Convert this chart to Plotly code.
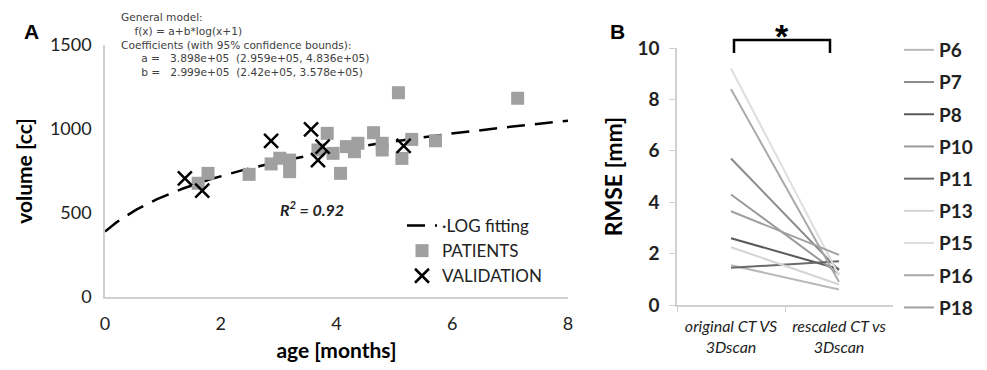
import plotly.graph_objects as go
import numpy as np

# ---------------- Panel A data ----------------
patients_age = [1.61, 1.78, 2.49, 2.87, 3.02, 3.19, 3.19, 3.68, 3.84, 3.94, 4.07, 4.17,
                4.37, 4.31, 4.64, 4.79, 4.79, 5.07, 5.13, 5.30, 5.71, 7.13]
patients_vol = [677, 736, 730, 792, 826, 815, 746, 875, 974, 855, 736, 895,
                915, 865, 978, 915, 875, 1216, 825, 938, 930, 1183]
valid_age = [1.38, 1.68, 2.87, 3.56, 3.76, 3.68, 5.16]
valid_vol = [706, 633, 930, 998, 895, 815, 899]
fit_a = 389.8   # cc  (3.898e+05 mm^3)
fit_b = 299.9   # cc  (2.999e+05 mm^3)
fit_age = np.linspace(0, 8, 161)

# ---------------- Panel B data ----------------
categories = ["original CT VS<br>3Dscan", "rescaled CT vs<br>3Dscan"]
patient_ids = ["P6", "P7", "P8", "P10", "P11", "P13", "P15", "P16", "P18"]
rmse_original = [1.55, 5.7, 2.6, 4.3, 1.45, 2.25, 9.2, 8.4, 3.65]
rmse_rescaled = [0.6, 1.35, 1.4, 1.2, 1.7, 0.8, 1.15, 0.9, 1.95]
patient_colors = ["#b8b8b8", "#8a8a8a", "#585858", "#9a9a9a", "#6a6a6a",
                  "#d4d4d4", "#dedede", "#a8a8a8", "#a0a0a0"]

OFF = 8                     # page body margin
W, H = 987 - OFF, 370 - OFF
def px(x):
    return (x - OFF) / W
def py(y):
    return 1 - (y - OFF) / H

FONT = "Lato"
fig = go.Figure()

fit_vol = fit_a + fit_b * np.log(fit_age + 1)
fig.add_trace(go.Scatter(x=fit_age, y=fit_vol, mode="lines", name="\u00b7LOG fitting",
                         line=dict(color="black", width=2.5, dash="18px,10px"),
                         xaxis="x", yaxis="y", legend="legend"))
fig.add_trace(go.Scatter(x=patients_age, y=patients_vol, mode="markers", name="PATIENTS",
                         marker=dict(symbol="square", size=13, color="#a0a0a0"),
                         xaxis="x", yaxis="y", legend="legend"))
fig.add_trace(go.Scatter(x=valid_age, y=valid_vol, mode="markers", name="VALIDATION",
                         marker=dict(symbol="x-thin", size=14, color="black",
                                     line=dict(color="black", width=2.5)),
                         xaxis="x", yaxis="y", legend="legend"))

for pid, o, r, c in zip(patient_ids, rmse_original, rmse_rescaled, patient_colors):
    fig.add_trace(go.Scatter(x=categories, y=[o, r], mode="lines", name=pid,
                             line=dict(color=c, width=2),
                             xaxis="x2", yaxis="y2", legend="legend2",
                             legendgroup=pid))

axis_line = "#d0d0d0"
fig.update_layout(
    width=W, height=H,
    margin=dict(l=0, r=0, t=0, b=0, autoexpand=False),
    paper_bgcolor="white", plot_bgcolor="white",
    font=dict(family=FONT, color="black"),
    xaxis=dict(domain=[px(105), px(568)], range=[0, 8], tickvals=[0, 2, 4, 6, 8],
               showgrid=False, zeroline=False, showline=True, linecolor=axis_line, linewidth=1.5,
               ticks="", ticklabelstandoff=10,
               tickfont=dict(size=18, family=FONT, color="#222"),
               title=dict(text="<b>age [months]</b>", font=dict(size=21, family=FONT), standoff=10),
               anchor="y"),
    yaxis=dict(domain=[py(297), py(45)], range=[0, 1500], tickvals=[0, 500, 1000, 1500],
               showgrid=False, zeroline=False, showline=True, linecolor=axis_line, linewidth=1.5,
               ticks="", ticklabelstandoff=8,
               tickfont=dict(size=18, family=FONT, color="#222"),
               title=dict(text="<b>volume [cc]</b>", font=dict(size=21, family=FONT), standoff=12),
               anchor="x"),
    xaxis2=dict(domain=[px(677), px(893)], range=[-0.5, 1.5], type="category",
                showgrid=False, zeroline=False, showline=True, linecolor=axis_line, linewidth=1.5,
                ticks="outside", tickson="boundaries", ticklen=5, tickcolor=axis_line,
                ticklabelstandoff=6,
                tickfont=dict(size=16, family=FONT, color="#222", style="italic"),
                anchor="y2"),
    yaxis2=dict(domain=[py(305), py(48)], range=[0, 10], tickvals=[0, 2, 4, 6, 8, 10],
                showgrid=False, zeroline=False, showline=True, linecolor=axis_line, linewidth=1.5,
                ticks="outside", ticklen=6, tickcolor=axis_line, ticklabelstandoff=6,
                tickfont=dict(size=19, family=FONT, color="#222", weight="bold"),
                title=dict(text="<b>RMSE [mm]</b>", font=dict(size=23, family=FONT), standoff=8),
                anchor="x2"),
    legend=dict(x=px(402), y=py(208), xanchor="left", yanchor="top",
                font=dict(size=17, family=FONT, color="#222"), bgcolor="rgba(0,0,0,0)",
                tracegroupgap=0, itemwidth=30),
    legend2=dict(x=px(899), y=py(31), xanchor="left", yanchor="top",
                 font=dict(size=19, family=FONT, color="#222", weight="bold"),
                 bgcolor="rgba(0,0,0,0)", tracegroupgap=4.5, itemwidth=30),
    showlegend=True,
)

# Fit model text
nb = "\u00a0"
model_text = ("General model:<br>"
              + nb * 4 + "f(x) = a+b*log(x+1)<br>"
              "Coefficients (with 95% confidence bounds):<br>"
              + nb * 6 + "a =" + nb * 3 + "3.898e+05" + nb * 2 + "(2.959e+05, 4.836e+05)<br>"
              + nb * 6 + "b =" + nb * 3 + "2.999e+05" + nb * 2 + "(2.42e+05, 3.578e+05)")
fig.add_annotation(x=px(119), y=py(9), xref="paper", yref="paper", xanchor="left", yanchor="top",
                   text=model_text, align="left", showarrow=False,
                   font=dict(size=10.6, family="DejaVu Sans", color="#404040"))
fig.add_annotation(x=px(312), y=py(208), xref="paper", yref="paper",
                   xanchor="center", yanchor="middle",
                   text="<b><i>R<sup>2</sup> = 0.92</i></b>", showarrow=False,
                   font=dict(size=16, family=FONT, color="#222"))
fig.add_annotation(x=px(31), y=py(31), xref="paper", yref="paper",
                   xanchor="center", yanchor="middle",
                   text="<b>A</b>", showarrow=False,
                   font=dict(size=21, family="Arial", color="black"))
fig.add_annotation(x=px(617), y=py(31), xref="paper", yref="paper",
                   xanchor="center", yanchor="middle",
                   text="<b>B</b>", showarrow=False,
                   font=dict(size=21, family="Arial", color="black"))
# significance bracket
fig.add_shape(type="path", xref="paper", yref="paper",
              path=f"M {px(734)} {py(53)} L {px(734)} {py(40)} L {px(830)} {py(40)} L {px(830)} {py(53)}",
              line=dict(color="black", width=2.5))
fig.add_annotation(x=px(782), y=py(36), xref="paper", yref="paper",
                   xanchor="center", yanchor="middle",
                   text="<b>*</b>", showarrow=False,
                   font=dict(size=34, family="Arial", color="black"))

fig.write_html("out.html")
